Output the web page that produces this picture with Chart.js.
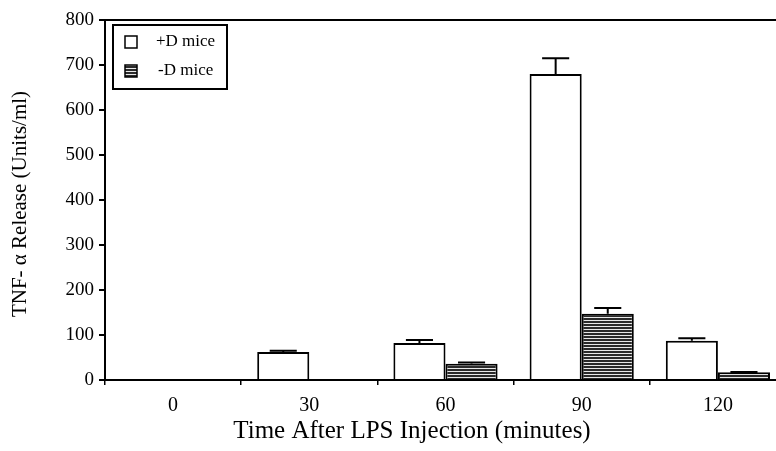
<!DOCTYPE html>
<html>
<head>
<meta charset="utf-8">
<script src="https://cdn.jsdelivr.net/npm/chart.js@4.4.1/dist/chart.umd.min.js"></script>
<style>
  html, body { margin: 0; padding: 0; background: #fff; overflow: hidden; }
  #wrap { width: 786px; height: 451px; }
</style>
</head>
<body>
<div id="wrap"><canvas id="chart" width="786" height="451"></canvas></div>
<script>
    "use strict";

    // Data
    var categories = ["0", "30", "60", "90", "120"];
    var plusD = [0, 62, 82, 680, 87];
    var plusDErr = [0, 3, 7, 35, 6];
    var minusD = [0, 0, 36, 147, 17];
    var minusDErr = [0, 0, 3, 13, 1];
    var yTicks = [0, 100, 200, 300, 400, 500, 600, 700, 800];

    var serif = "'Liberation Serif', 'DejaVu Serif', serif";

    // Horizontal hatch pattern for -D bars
    var makeHatch = function (ctx) {
        var p = document.createElement("canvas");
        p.width = 4;
        p.height = 3;
        var pc = p.getContext("2d");
        pc.fillStyle = "#2a2a2a";
        pc.fillRect(0, 0, 4, 3);
        pc.fillStyle = "#e8e8e8";
        pc.fillRect(0, 2, 4, 1);
        return ctx.createPattern(p, "repeat");
    };

    var canvas = document.getElementById("chart");
    var ctx = canvas.getContext("2d");
    var hatch = makeHatch(ctx);
    var errors = [plusDErr, minusDErr];

    // Error bars, top frame line, legend box and axis titles
    var extras = {
        id: "extras",
        afterDatasetsDraw: function (chart) {
            var c = chart.ctx;
            var area = chart.chartArea;
            var y = chart.scales.y;
            c.save();
            c.strokeStyle = "#000";
            c.lineWidth = 2;
            chart.data.datasets.forEach(function (ds, di) {
                var meta = chart.getDatasetMeta(di);
                meta.data.forEach(function (bar, i) {
                    var err = errors[di][i];
                    if (!ds.data[i] || !err) return;
                    var top = y.getPixelForValue(ds.data[i] + err);
                    var half = bar.width * 0.26;
                    c.beginPath();
                    c.moveTo(bar.x, bar.y);
                    c.lineTo(bar.x, top);
                    c.moveTo(bar.x - half, top);
                    c.lineTo(bar.x + half, top);
                    c.stroke();
                });
            });

            // top frame
            c.beginPath();
            c.moveTo(area.left, area.top);
            c.lineTo(area.right, area.top);
            c.stroke();

            // legend
            c.fillStyle = "#fff";
            c.fillRect(113, 25, 114, 64);
            c.strokeRect(113, 25, 114, 64);
            c.lineWidth = 1.5;
            c.strokeRect(125, 36, 12, 12);
            c.fillStyle = hatch;
            c.fillRect(125, 65, 12, 12);
            c.strokeRect(125, 65, 12, 12);
            c.fillStyle = "#000";
            c.font = "17px " + serif;
            c.textBaseline = "middle";
            c.textAlign = "left";
            c.fillText("+D mice", 156, 42);
            c.fillText("-D mice", 158, 71);

            // axis titles
            c.font = "25px " + serif;
            c.textAlign = "center";
            c.textBaseline = "alphabetic";
            c.fillText("Time After LPS Injection (minutes)", 412, 438);
            c.font = "21px " + serif;
            c.textBaseline = "middle";
            c.translate(20, 204);
            c.rotate(-Math.PI / 2);
            c.fillText("TNF- \u03b1 Release (Units/ml)", 0, 0);
            c.restore();
        }
    };

    var chart = new Chart(ctx, {
        type: "bar",
        data: {
            labels: categories,
            datasets: [{
                label: "+D mice",
                data: plusD,
                backgroundColor: "#fff",
                borderColor: "#000",
                borderWidth: 2
            },
            {
                label: "-D mice",
                data: minusD,
                backgroundColor: hatch,
                borderColor: "#000",
                borderWidth: 2
            }]
        },
        options: {
            responsive: false,
            animation: false,
            layout: { padding: { top: 20, right: 0, left: 0, bottom: 0 } },
            plugins: {
                legend: { display: false },
                tooltip: { enabled: false }
            },
            datasets: {
                bar: { categoryPercentage: 0.765, barPercentage: 1.0 }
            },
            scales: {
                x: {
                    afterFit: function (s) { s.height = 71; },
                    grid: {
                        drawOnChartArea: false,
                        drawTicks: true,
                        tickLength: 5,
                        color: "#000",
                        lineWidth: 1.5
                    },
                    border: { color: "#000", width: 2 },
                    ticks: {
                        color: "#000",
                        padding: 9,
                        font: { family: serif, size: 20 }
                    }
                },
                y: {
                    min: 0,
                    max: 800,
                    afterFit: function (s) { s.width = 105; },
                    afterBuildTicks: function (s) {
                        s.ticks = yTicks.map(function (v) { return { value: v }; });
                    },
                    grid: {
                        drawOnChartArea: false,
                        drawTicks: true,
                        tickLength: 6,
                        color: "#000",
                        lineWidth: 2
                    },
                    border: { color: "#000", width: 2 },
                    ticks: {
                        color: "#000",
                        padding: 5,
                        font: { family: serif, size: 19 }
                    }
                }
            }
        },
        plugins: [extras]
    });
</script>
</body>
</html>
